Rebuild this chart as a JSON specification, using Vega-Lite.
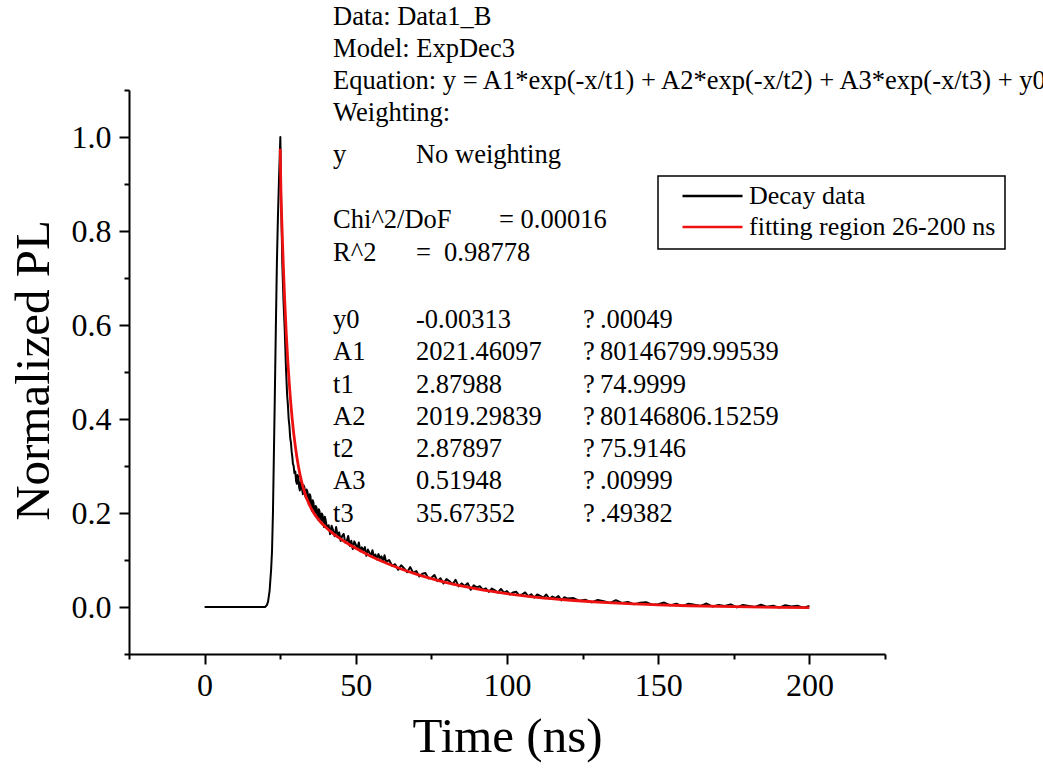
{
  "$schema": "https://vega.github.io/schema/vega-lite/v6.json",
  "width": 756,
  "height": 564,
  "autosize": {"type": "none"},
  "padding": {"left": 129, "top": 90, "right": 158, "bottom": 117},
  "background": "white",
  "config": {
    "view": {"stroke": null},
    "font": "Liberation Serif",
    "legend": {"strokeWidth": 1.5}
  },
  "datasets": {
    "decay": [
      {"t": 0, "v": 0}, {"t": 5, "v": 0}, {"t": 10, "v": 0}, {"t": 15, "v": 0}, {"t": 20, "v": 0},
      {"t": 20.6, "v": 0.004}, {"t": 21.0, "v": 0.012}, {"t": 21.5, "v": 0.035}, {"t": 22.0, "v": 0.08},
      {"t": 22.3, "v": 0.12}, {"t": 22.6, "v": 0.2}, {"t": 22.9, "v": 0.32}, {"t": 23.2, "v": 0.44},
      {"t": 23.55, "v": 0.59}, {"t": 23.9, "v": 0.73}, {"t": 24.25, "v": 0.83}, {"t": 24.6, "v": 0.91},
      {"t": 24.85, "v": 0.96}, {"t": 25.05, "v": 1.0},
      {"t": 25.3, "v": 0.87}, {"t": 25.5, "v": 0.8}, {"t": 25.7, "v": 0.73}, {"t": 25.9, "v": 0.69},
      {"t": 26.1, "v": 0.65}, {"t": 26.3, "v": 0.62}, {"t": 26.5, "v": 0.59}, {"t": 26.7, "v": 0.55},
      {"t": 26.9, "v": 0.51}, {"t": 27.1, "v": 0.48}, {"t": 27.3, "v": 0.45}, {"t": 27.55, "v": 0.43},
      {"t": 27.8, "v": 0.4}, {"t": 28.05, "v": 0.385}, {"t": 28.3, "v": 0.36}, {"t": 28.55, "v": 0.35},
      {"t": 28.8, "v": 0.33}, {"t": 29.0, "v": 0.32}, {"t": 29.2, "v": 0.305}, {"t": 29.45, "v": 0.3},
      {"t": 29.7, "v": 0.285},
      {"t": 30.0, "v": 0.288}, {"t": 30.25, "v": 0.268}, {"t": 30.5, "v": 0.262}, {"t": 30.75, "v": 0.281}, {"t": 31.0, "v": 0.275}, {"t": 31.25, "v": 0.255}, {"t": 31.5, "v": 0.248},
      {"t": 31.75, "v": 0.266}, {"t": 32.0, "v": 0.262}, {"t": 32.25, "v": 0.25}, {"t": 32.5, "v": 0.24}, {"t": 32.75, "v": 0.259}, {"t": 33.0, "v": 0.255}, {"t": 33.25, "v": 0.238}, {"t": 33.5, "v": 0.232},
      {"t": 33.75, "v": 0.25}, {"t": 34.0, "v": 0.246}, {"t": 34.25, "v": 0.229}, {"t": 34.5, "v": 0.218}, {"t": 34.75, "v": 0.24}, {"t": 35.0, "v": 0.236}, {"t": 35.25, "v": 0.216}, {"t": 35.5, "v": 0.205},
      {"t": 35.75, "v": 0.227}, {"t": 36.0, "v": 0.222}, {"t": 36.25, "v": 0.205}, {"t": 36.5, "v": 0.198}, {"t": 36.75, "v": 0.215}, {"t": 37.0, "v": 0.212}, {"t": 37.25, "v": 0.196}, {"t": 37.5, "v": 0.186},
      {"t": 37.75, "v": 0.208}, {"t": 38.0, "v": 0.204}, {"t": 38.25, "v": 0.188}, {"t": 38.5, "v": 0.18}, {"t": 38.75, "v": 0.199}, {"t": 39.0, "v": 0.196}, {"t": 39.25, "v": 0.181}, {"t": 39.5, "v": 0.17},
      {"t": 39.75, "v": 0.192},
      {"t": 40.0, "v": 0.186}, {"t": 40.5, "v": 0.167}, {"t": 41.0, "v": 0.174}, {"t": 41.5, "v": 0.155},
      {"t": 42.0, "v": 0.1728}, {"t": 42.5, "v": 0.163}, {"t": 43.0, "v": 0.1508}, {"t": 43.5, "v": 0.17},
      {"t": 44.0, "v": 0.151}, {"t": 44.5, "v": 0.1587}, {"t": 45.0, "v": 0.1406}, {"t": 45.5, "v": 0.1515},
      {"t": 46.0, "v": 0.1555}, {"t": 46.5, "v": 0.137}, {"t": 47.0, "v": 0.1402}, {"t": 47.5, "v": 0.151},
      {"t": 48.0, "v": 0.1303}, {"t": 48.5, "v": 0.141}, {"t": 49.0, "v": 0.1235}, {"t": 49.5, "v": 0.1396},
      {"t": 50.0, "v": 0.1328}, {"t": 50.5, "v": 0.124}, {"t": 51.0, "v": 0.1373}, {"t": 51.5, "v": 0.1185},
      {"t": 52.0, "v": 0.1268}, {"t": 52.5, "v": 0.12}, {"t": 53.0, "v": 0.1275}, {"t": 53.5, "v": 0.1088},
      {"t": 54.0, "v": 0.1222}, {"t": 54.5, "v": 0.1156}, {"t": 55.0, "v": 0.1081}, {"t": 55.5, "v": 0.1206},
      {"t": 56.0, "v": 0.107}, {"t": 56.5, "v": 0.1115}, {"t": 57.0, "v": 0.101}, {"t": 57.5, "v": 0.1125},
      {"t": 58.0, "v": 0.1041}, {"t": 58.5, "v": 0.1077}, {"t": 59.0, "v": 0.0963}, {"t": 59.5, "v": 0.1099},
      {"t": 60.0, "v": 0.0965},
      {"t": 61, "v": 0.0999}, {"t": 62, "v": 0.0877}, {"t": 63, "v": 0.0911}, {"t": 64, "v": 0.0791},
      {"t": 65, "v": 0.0887}, {"t": 66, "v": 0.0821}, {"t": 67, "v": 0.0739}, {"t": 68, "v": 0.0849},
      {"t": 69, "v": 0.0726}, {"t": 70, "v": 0.0765}, {"t": 71, "v": 0.0649}, {"t": 72, "v": 0.0707},
      {"t": 73, "v": 0.0724}, {"t": 74, "v": 0.0609}, {"t": 75, "v": 0.0621}, {"t": 76, "v": 0.0682},
      {"t": 77, "v": 0.0551}, {"t": 78, "v": 0.0612}, {"t": 79, "v": 0.05}, {"t": 80, "v": 0.0592},
      {"t": 81, "v": 0.0547}, {"t": 82, "v": 0.0484}, {"t": 83, "v": 0.0578}, {"t": 84, "v": 0.0438},
      {"t": 85, "v": 0.0502}, {"t": 86, "v": 0.0447}, {"t": 87, "v": 0.0506}, {"t": 88, "v": 0.0367},
      {"t": 89, "v": 0.0463}, {"t": 90, "v": 0.0415},
      {"t": 91, "v": 0.0443}, {"t": 92, "v": 0.0368}, {"t": 93, "v": 0.0397}, {"t": 94, "v": 0.0323},
      {"t": 95, "v": 0.0393}, {"t": 96, "v": 0.0355}, {"t": 97, "v": 0.0305}, {"t": 98, "v": 0.0384},
      {"t": 99, "v": 0.0307}, {"t": 100, "v": 0.0338}, {"t": 101, "v": 0.0266}, {"t": 102, "v": 0.031},
      {"t": 103, "v": 0.0325}, {"t": 104, "v": 0.0253}, {"t": 105, "v": 0.0265}, {"t": 106, "v": 0.031},
      {"t": 107, "v": 0.0226}, {"t": 108, "v": 0.0271}, {"t": 109, "v": 0.02}, {"t": 110, "v": 0.0265},
      {"t": 111, "v": 0.0238}, {"t": 112, "v": 0.02}, {"t": 113, "v": 0.0266}, {"t": 114, "v": 0.0176},
      {"t": 115, "v": 0.0222}, {"t": 116, "v": 0.0188}, {"t": 117, "v": 0.0231}, {"t": 118, "v": 0.0142},
      {"t": 119, "v": 0.0208}, {"t": 120, "v": 0.0179},
      {"t": 122, "v": 0.019}, {"t": 124, "v": 0.0132}, {"t": 126, "v": 0.0153}, {"t": 128, "v": 0.0097},
      {"t": 130, "v": 0.0149}, {"t": 132, "v": 0.0121}, {"t": 134, "v": 0.0084}, {"t": 136, "v": 0.0143},
      {"t": 138, "v": 0.0086}, {"t": 140, "v": 0.0109}, {"t": 142, "v": 0.0056}, {"t": 144, "v": 0.009},
      {"t": 146, "v": 0.0103}, {"t": 148, "v": 0.005}, {"t": 150, "v": 0.006}, {"t": 152, "v": 0.0095},
      {"t": 154, "v": 0.0034}, {"t": 156, "v": 0.0069}, {"t": 158, "v": 0.0018}, {"t": 160, "v": 0.0068},
      {"t": 162, "v": 0.005}, {"t": 164, "v": 0.0023}, {"t": 166, "v": 0.0074}, {"t": 168, "v": 0.0009},
      {"t": 170, "v": 0.0045}, {"t": 172, "v": 0.0022}, {"t": 174, "v": 0.0056}, {"t": 176, "v": -0.0009},
      {"t": 178, "v": 0.0042}, {"t": 180, "v": 0.0022}, {"t": 182, "v": 0.0}, {"t": 184, "v": 0.0049},
      {"t": 186, "v": 0.0003}, {"t": 188, "v": 0.0025}, {"t": 190, "v": -0.0013}, {"t": 192, "v": 0.0037},
      {"t": 194, "v": 0.0009}, {"t": 196, "v": 0.0025}, {"t": 198, "v": -0.0015}, {"t": 200, "v": 0.002}
    ],
    "fit": [
      {"t": 25.0, "v": 0.975}, {"t": 25.25, "v": 0.881}, {"t": 25.5, "v": 0.827}, {"t": 26.0, "v": 0.732},
      {"t": 26.5, "v": 0.651}, {"t": 27.0, "v": 0.583}, {"t": 27.5, "v": 0.525}, {"t": 28.0, "v": 0.476},
      {"t": 28.5, "v": 0.434}, {"t": 29.0, "v": 0.398}, {"t": 29.5, "v": 0.368}, {"t": 30.0, "v": 0.342},
      {"t": 31.0, "v": 0.3}, {"t": 32.0, "v": 0.269}, {"t": 33.0, "v": 0.2455}, {"t": 34.0, "v": 0.227},
      {"t": 35.0, "v": 0.213}, {"t": 36.0, "v": 0.201}, {"t": 38.0, "v": 0.1835}, {"t": 40.0, "v": 0.17},
      {"t": 42.0, "v": 0.1588}, {"t": 44.0, "v": 0.149}, {"t": 46.0, "v": 0.1405}, {"t": 48.0, "v": 0.1323},
      {"t": 50.0, "v": 0.1248}, {"t": 55.0, "v": 0.1081}, {"t": 60.0, "v": 0.0935}, {"t": 65.0, "v": 0.0809},
      {"t": 70.0, "v": 0.0699}, {"t": 75.0, "v": 0.0603}, {"t": 80.0, "v": 0.052}, {"t": 90.0, "v": 0.0385},
      {"t": 100.0, "v": 0.0284}, {"t": 110.0, "v": 0.0207}, {"t": 120.0, "v": 0.0149}, {"t": 130.0, "v": 0.0105},
      {"t": 140.0, "v": 0.0071}, {"t": 150.0, "v": 0.0046}, {"t": 160.0, "v": 0.0027}, {"t": 170.0, "v": 0.0013},
      {"t": 180.0, "v": 0.0002}, {"t": 190.0, "v": -0.0006}, {"t": 200.0, "v": -0.0012}
    ],
    "notes": [
      {"t": 42.5, "v": 1.2548, "label": "Data: Data1_B"},
      {"t": 42.5, "v": 1.1866, "label": "Model: ExpDec3"},
      {"t": 42.5, "v": 1.1183, "label": "Equation: y = A1*exp(-x/t1) + A2*exp(-x/t2) + A3*exp(-x/t3) + y0"},
      {"t": 42.5, "v": 1.0501, "label": "Weighting:"},
      {"t": 42.5, "v": 0.9627, "label": "y"},
      {"t": 69.9, "v": 0.9627, "label": "No weighting"},
      {"t": 42.5, "v": 0.8241, "label": "Chi^2/DoF"},
      {"t": 97.35, "v": 0.8241, "label": "= 0.00016"},
      {"t": 42.5, "v": 0.7537, "label": "R^2"},
      {"t": 69.9, "v": 0.7537, "label": "="},
      {"t": 79.17, "v": 0.7537, "label": "0.98778"},
      {"t": 42.5, "v": 0.6109, "label": "y0"},
      {"t": 69.9, "v": 0.6109, "label": "-0.00313"},
      {"t": 125.1, "v": 0.6109, "label": "?"},
      {"t": 130.75, "v": 0.6109, "label": ".00049"},
      {"t": 42.5, "v": 0.5426, "label": "A1"},
      {"t": 69.9, "v": 0.5426, "label": "2021.46097"},
      {"t": 125.1, "v": 0.5426, "label": "?"},
      {"t": 130.75, "v": 0.5426, "label": "80146799.99539"},
      {"t": 42.5, "v": 0.4723, "label": "t1"},
      {"t": 69.9, "v": 0.4723, "label": "2.87988"},
      {"t": 125.1, "v": 0.4723, "label": "?"},
      {"t": 130.75, "v": 0.4723, "label": "74.9999"},
      {"t": 42.5, "v": 0.4041, "label": "A2"},
      {"t": 69.9, "v": 0.4041, "label": "2019.29839"},
      {"t": 125.1, "v": 0.4041, "label": "?"},
      {"t": 130.75, "v": 0.4041, "label": "80146806.15259"},
      {"t": 42.5, "v": 0.3358, "label": "t2"},
      {"t": 69.9, "v": 0.3358, "label": "2.87897"},
      {"t": 125.1, "v": 0.3358, "label": "?"},
      {"t": 130.75, "v": 0.3358, "label": "75.9146"},
      {"t": 42.5, "v": 0.2676, "label": "A3"},
      {"t": 69.9, "v": 0.2676, "label": "0.51948"},
      {"t": 125.1, "v": 0.2676, "label": "?"},
      {"t": 130.75, "v": 0.2676, "label": ".00999"},
      {"t": 42.5, "v": 0.1972, "label": "t3"},
      {"t": 69.9, "v": 0.1972, "label": "35.67352"},
      {"t": 125.1, "v": 0.1972, "label": "?"},
      {"t": 130.75, "v": 0.1972, "label": ".49382"}
    ]
  },
  "encoding": {
    "x": {
      "field": "t", "type": "quantitative",
      "scale": {"domain": [-25, 225], "nice": false, "zero": false},
      "axis": {
        "title": "Time (ns)",
        "values": [-25, 0, 25, 50, 75, 100, 125, 150, 175, 200, 225],
        "format": "d",
        "labelExpr": "datum.value % 50 === 0 ? datum.label : ''",
        "tickSize": {"condition": {"test": "datum.value % 50 === 0", "value": 10}, "value": 5},
        "labelOverlap": false,
        "labelFlush": false,
        "grid": false,
        "domainWidth": 2, "tickWidth": 2,
        "domainColor": "black", "tickColor": "black", "labelColor": "black", "titleColor": "black",
        "labelFont": "Liberation Serif", "titleFont": "Liberation Serif",
        "labelFontSize": 32, "labelPadding": 6,
        "titleFontSize": 49, "titleFontWeight": "normal",
        "titleY": 82, "titleBaseline": "middle"
      }
    },
    "y": {
      "field": "v", "type": "quantitative",
      "scale": {"domain": [-0.1, 1.1], "nice": false, "zero": false},
      "axis": {
        "title": "Normalized PL",
        "values": [-0.1, 0, 0.1, 0.2, 0.3, 0.4, 0.5, 0.6, 0.7, 0.8, 0.9, 1.0, 1.1],
        "format": ".1f",
        "labelExpr": "abs(round(datum.value * 10)) % 2 === 0 ? datum.label : ''",
        "tickSize": {"condition": {"test": "abs(round(datum.value * 10)) % 2 === 0", "value": 10}, "value": 5},
        "labelOverlap": false,
        "labelFlush": false,
        "grid": false,
        "domainWidth": 2, "tickWidth": 2,
        "domainColor": "black", "tickColor": "black", "labelColor": "black", "titleColor": "black",
        "labelFont": "Liberation Serif", "titleFont": "Liberation Serif",
        "labelFontSize": 32, "labelPadding": 8,
        "titleFontSize": 49, "titleFontWeight": "normal",
        "titleX": -96, "titleY": 280, "titleBaseline": "middle", "titleAlign": "center", "titleAngle": -90
      }
    }
  },
  "layer": [
    {
      "data": {"name": "decay"},
      "transform": [{"calculate": "'Decay data'", "as": "series"}],
      "mark": {"type": "line", "strokeWidth": 2, "strokeJoin": "round"},
      "encoding": {
        "color": {
          "field": "series", "type": "nominal",
          "scale": {"domain": ["Decay data", "fitting region 26-200 ns"], "range": ["#000000", "#ee1111"]},
          "legend": {
            "orient": "none", "legendX": 529, "legendY": 86, "title": null,
            "strokeColor": "black", "fillColor": "white", "padding": 9,
            "symbolOffset": 14, "symbolType": "stroke", "symbolSize": 3600, "symbolStrokeWidth": 2.5,
            "labelFont": "Liberation Serif", "labelFontSize": 26, "labelColor": "black",
            "labelOffset": 5, "rowPadding": 5, "clipHeight": 22, "labelLimit": 400
          }
        }
      }
    },
    {
      "data": {"name": "fit"},
      "transform": [{"calculate": "'fitting region 26-200 ns'", "as": "series"}],
      "mark": {"type": "line", "strokeWidth": 2.8, "interpolate": "monotone", "strokeJoin": "round"},
      "encoding": {
        "color": {"field": "series", "type": "nominal"}
      }
    },
    {
      "data": {"name": "notes"},
      "mark": {"type": "text", "align": "left", "baseline": "middle", "font": "Liberation Serif", "fontSize": 26.5, "color": "black"},
      "encoding": {
        "text": {"field": "label", "type": "nominal"}
      }
    }
  ]
}
